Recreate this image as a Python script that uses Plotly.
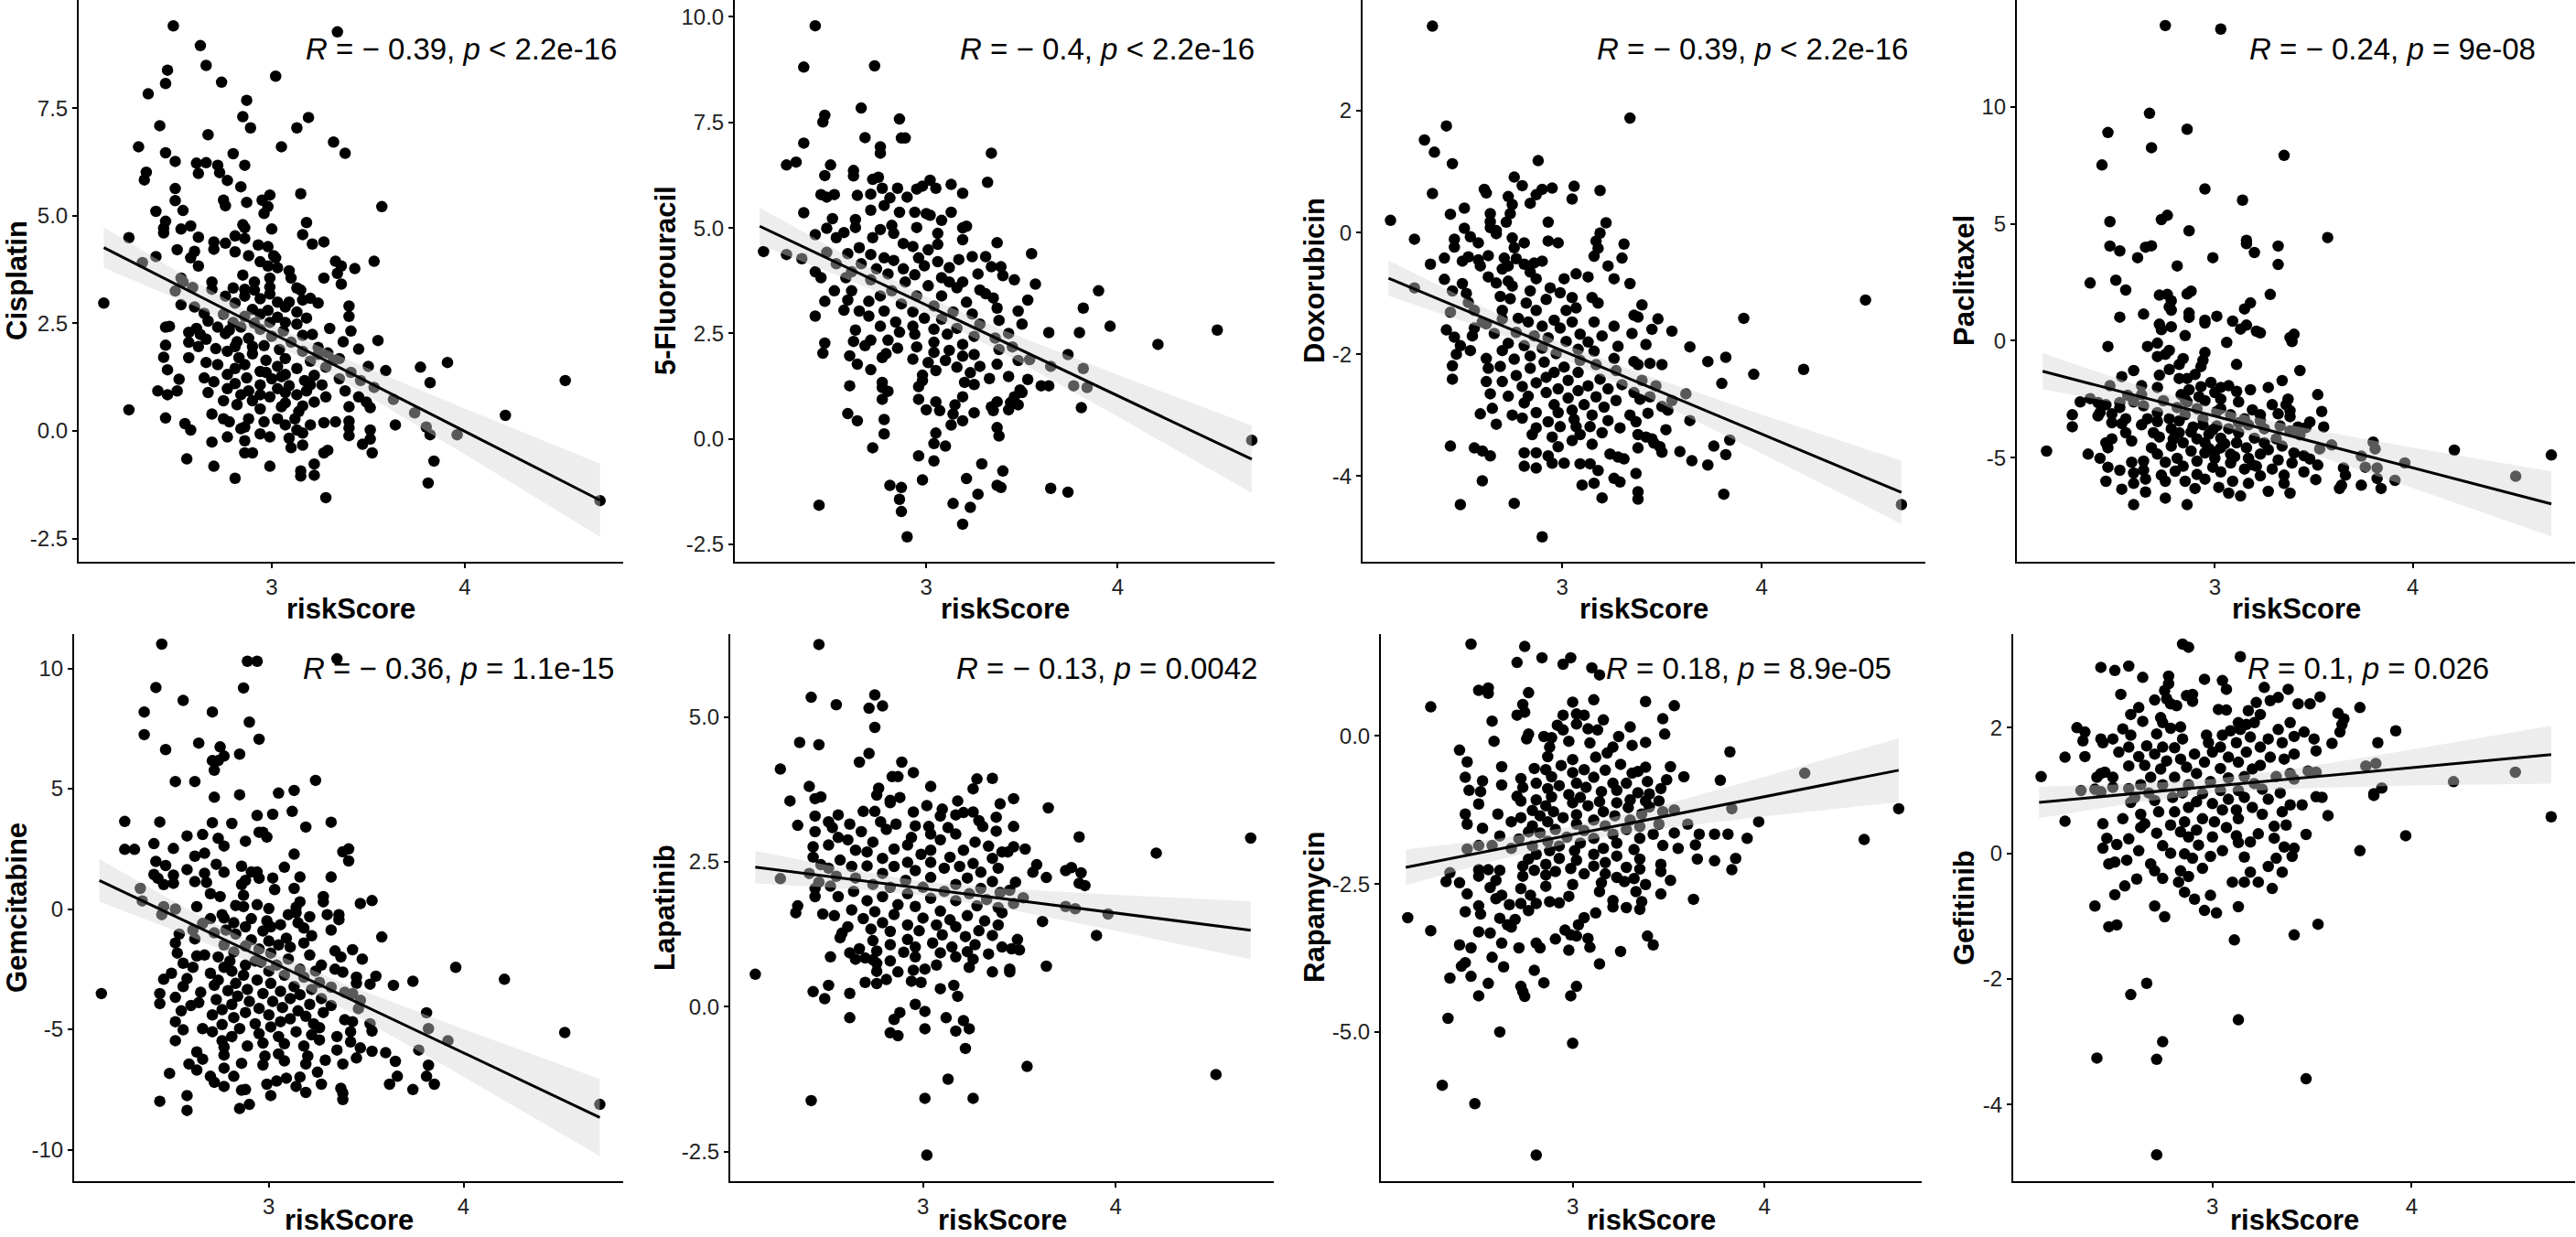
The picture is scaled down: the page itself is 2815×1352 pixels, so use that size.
import plotly.graph_objects as go

W, H = 2815, 1352
FONT = "Liberation Sans, Arial, sans-serif"

# ---- values ----
drugs = ["Cisplatin", "5-Fluorouracil", "Doxorubicin", "Paclitaxel",
         "Gemcitabine", "Lapatinib", "Rapamycin", "Gefitinib"]

stat_labels = [
    "<i>R</i> = \u2212 0.39, <i>p</i> &lt; 2.2e-16",
    "<i>R</i> = \u2212 0.4, <i>p</i> &lt; 2.2e-16",
    "<i>R</i> = \u2212 0.39, <i>p</i> &lt; 2.2e-16",
    "<i>R</i> = \u2212 0.24, <i>p</i> = 9e-08",
    "<i>R</i> = \u2212 0.36, <i>p</i> = 1.1e-15",
    "<i>R</i> = \u2212 0.13, <i>p</i> = 0.0042",
    "<i>R</i> = 0.18, <i>p</i> = 8.9e-05",
    "<i>R</i> = 0.1, <i>p</i> = 0.026",
]

x_range = [2.0, 4.82]
x_ticks = [3, 4]
x_ticktext = ["3", "4"]

y_ranges = [[-3.04, 10.01], [-2.91, 10.40], [-5.41, 3.82], [-9.44, 14.56],
            [-11.31, 11.43], [-3.01, 6.43], [-7.52, 1.72], [-5.22, 3.49]]
y_ticks = [[-2.5, 0, 2.5, 5, 7.5], [-2.5, 0, 2.5, 5, 7.5, 10], [-4, -2, 0, 2],
           [-5, 0, 5, 10], [-10, -5, 0, 5, 10], [-2.5, 0, 2.5, 5],
           [-5, -2.5, 0], [-4, -2, 0, 2]]
y_ticktext = [["-2.5", "0.0", "2.5", "5.0", "7.5"],
              ["-2.5", "0.0", "2.5", "5.0", "7.5", "10.0"],
              ["-4", "-2", "0", "2"],
              ["-5", "0", "5", "10"],
              ["-10", "-5", "0", "5", "10"],
              ["-2.5", "0.0", "2.5", "5.0"],
              ["-5.0", "-2.5", "0.0"],
              ["-4", "-2", "0", "2"]]

# regression lines (y at the smallest and largest riskScore)
fit_x = [2.13, 4.70]
fit_y = [[4.26, -1.61], [5.04, -0.48], [-0.75, -4.27], [-1.30, -6.97],
         [1.19, -8.66], [2.41, 1.32], [-2.22, -0.58], [0.81, 1.57]]

# confidence band edges
band_x = [2.13, 2.6, 3.0, 3.4, 4.0, 4.70]
band_upper = [[4.73, 3.47, 2.48, 1.64, 0.52, -0.76],
              [5.48, 4.30, 3.37, 2.58, 1.52, 0.32],
              [-0.46, -1.22, -1.82, -2.32, -2.99, -3.75],
              [-0.53, -1.87, -2.88, -3.64, -4.56, -5.58],
              [2.08, -0.08, -1.75, -3.14, -4.99, -7.06],
              [2.69, 2.38, 2.16, 2.04, 1.93, 1.82],
              [-1.92, -1.74, -1.53, -1.23, -0.69, -0.04],
              [1.06, 1.10, 1.18, 1.34, 1.65, 2.03]]
band_lower = [[3.79, 2.90, 2.07, 1.08, -0.54, -2.46],
              [4.60, 3.76, 2.98, 2.04, 0.53, -1.28],
              [-1.04, -1.57, -2.07, -2.66, -3.63, -4.79],
              [-2.07, -2.80, -3.56, -4.57, -6.29, -8.36],
              [0.31, -1.15, -2.53, -4.21, -6.97, -10.26],
              [2.13, 2.04, 1.92, 1.71, 1.31, 0.82],
              [-2.52, -2.10, -1.80, -1.59, -1.36, -1.12],
              [0.56, 0.80, 0.96, 1.03, 1.08, 1.11]]

# (riskScore, drug sensitivity) pairs
cisplatin = [
    (2.13,2.97),(2.49,9.41),(3.34,9.27),(2.63,8.95),(2.66,8.49),(2.46,8.38),(2.45,8.07),(3.02,8.24),(2.74,8.10),(2.36,7.83),
    (2.87,7.68),(3.19,7.28),(2.85,7.30),(2.42,7.09),(3.13,7.04),(2.89,7.04),(2.67,6.88),(2.31,6.60),(3.32,6.71),(3.05,6.60),
    (2.45,6.46),(3.38,6.45),(2.80,6.44),(2.50,6.26),(2.61,6.22),(2.66,6.23),(2.86,6.17),(2.72,6.17),(2.62,5.98),(2.73,6.00),
    (2.35,6.01),(2.34,5.83),(2.77,5.82),(2.50,5.63),(2.84,5.67),(3.15,5.51),(2.50,5.35),(2.75,5.36),(2.95,5.36),(2.99,5.48),
    (2.87,5.31),(2.76,5.23),(3.57,5.21),(2.40,5.10),(2.54,5.12),(2.96,5.05),(2.98,5.21),(2.45,4.87),(3.18,4.84),(2.53,4.69),
    (2.44,4.71),(2.85,4.79),(2.86,4.72),(3.00,4.69),(2.58,4.76),(2.26,4.49),(2.44,4.60),(3.16,4.56),(2.62,4.50),(2.81,4.53),
    (2.86,4.47),(3.21,4.34),(3.27,4.39),(2.70,4.39),(2.76,4.36),(2.93,4.32),(2.98,4.28),(2.51,4.21),(2.60,4.17),(2.81,4.16),
    (2.70,4.22),(2.88,4.07),(3.01,4.07),(2.40,4.05),(2.58,4.02),(3.02,4.02),(3.33,3.94),(3.53,3.94),(2.33,3.91),(2.62,3.83),
    (3.36,3.83),(3.03,3.79),(3.43,3.77),(3.09,3.72),(3.34,3.66),(2.99,3.55),(2.85,3.62),(3.27,3.55),(3.10,3.55),(2.53,3.55),
    (2.54,3.46),(2.69,3.46),(2.91,3.46),(3.36,3.41),(2.99,3.34),(3.13,3.32),(2.59,3.33),(2.50,3.25),(2.80,3.32),(3.15,3.27),
    (2.86,3.29),(2.69,3.29),(2.99,3.18),(2.76,3.13),(2.86,3.13),(2.94,3.07),(3.20,3.08),(3.16,3.04),(3.09,2.99),(2.81,2.97),
    (2.53,2.93),(2.60,2.88),(3.24,2.97),(3.40,2.90),(3.07,2.88),(2.90,2.82),(2.98,2.80),(3.13,2.76),(2.65,2.73),(3.40,2.66),
    (2.75,2.71),(2.86,2.66),(3.18,2.62),(3.03,2.64),(2.67,2.55),(2.91,2.50),(2.80,2.52),(3.13,2.48),(2.45,2.41),(2.47,2.43),
    (2.72,2.41),(2.61,2.38),(2.84,2.41),(2.94,2.36),(3.30,2.38),(3.06,2.32),(3.41,2.32),(2.57,2.29),(2.76,2.26),(3.21,2.24),
    (2.63,2.24),(3.00,2.20),(3.16,2.22),(2.88,2.15),(3.37,2.07),(3.55,2.10),(2.66,2.13),(2.82,2.07),(2.57,2.06),(3.10,2.06),
    (2.45,1.99),(2.62,1.96),(2.96,1.98),(3.24,1.94),(3.04,1.89),(3.45,1.90),(2.71,1.91),(2.77,1.85),(3.16,1.85),(2.90,1.79),
    (3.29,1.81),(2.44,1.71),(2.57,1.70),(2.83,1.70),(3.07,1.68),(3.35,1.68),(2.97,1.64),(3.20,1.62),(2.66,1.59),(2.72,1.54),
    (2.86,1.54),(3.91,1.59),(3.03,1.50),(3.50,1.50),(3.77,1.48),(2.81,1.45),(3.13,1.45),(3.28,1.48),(2.46,1.42),(2.94,1.38),
    (3.59,1.40),(3.41,1.36),(2.77,1.31),(3.07,1.31),(3.22,1.29),(2.65,1.23),(2.87,1.23),(3.00,1.21),(3.17,1.17),(3.35,1.21),
    (2.52,1.20),(3.46,1.17),(2.70,1.14),(3.82,1.12),(2.81,1.10),(2.94,1.07),(3.09,1.05),(3.26,1.07),(3.53,1.01),(2.77,0.98),
    (3.03,0.98),(2.41,0.93),(2.51,0.93),(2.88,0.93),(3.18,0.93),(3.38,0.93),(2.46,0.84),(2.67,0.89),(2.84,0.84),(2.99,0.79),
    (3.13,0.84),(3.28,0.79),(3.45,0.79),(3.63,0.73),(2.75,0.70),(2.90,0.70),(3.07,0.65),(3.22,0.67),(3.49,0.67),(3.74,0.42),
    (2.82,0.61),(3.16,0.58),(3.40,0.56),(3.51,0.54),(2.26,0.49),(2.94,0.51),(3.05,0.56),(3.14,0.45),(2.69,0.39),(4.21,0.36),
    (2.45,0.30),(2.75,0.28),(2.88,0.28),(3.33,0.21),(3.40,0.23),(2.55,0.17),(2.78,0.21),(2.96,0.21),(3.27,0.19),(3.64,0.14),
    (3.07,0.14),(3.80,0.09),(3.20,0.14),(2.58,0.02),(2.84,0.05),(3.40,0.07),(3.51,0.02),(3.13,0.02),(2.94,-0.07),(3.16,-0.05),
    (3.82,-0.09),(3.96,-0.09),(2.77,-0.14),(2.99,-0.14),(3.40,-0.11),(3.51,-0.19),(2.86,-0.23),(3.09,-0.17),(2.69,-0.26),(3.47,-0.31),
    (3.16,-0.33),(3.10,-0.39),(3.52,-0.51),(2.86,-0.51),(2.90,-0.51),(3.27,-0.51),(3.29,-0.45),(2.56,-0.65),(3.84,-0.70),(3.22,-0.77),
    (2.70,-0.82),(2.99,-0.82),(3.15,-0.93),(3.22,-1.03),(3.15,-1.05),(2.81,-1.10),(3.81,-1.21),(3.28,-1.55),(4.52,1.17),(4.70,-1.62),
    (3.24,1.78),(3.32,1.64),(3.05,1.26),(2.97,1.36),(3.20,1.07),(3.07,0.89),(2.94,0.84),(3.12,0.28),(3.03,0.28),(2.86,0.09),
    (2.81,1.96),(2.90,1.96),(2.78,2.34),(3.07,2.52),(2.99,2.52),(2.94,2.71),(3.03,2.99),(2.91,3.27),(2.98,3.83),(2.94,3.93),
]

fluorouracil = [
    (2.15,4.44),(2.27,4.37),(2.35,4.27),(2.42,9.79),(2.36,8.81),(2.73,8.84),(2.47,7.67),(2.46,7.51),(2.86,7.58),(2.66,7.84),
    (2.36,7.01),(2.68,7.14),(2.87,7.13),(2.89,7.13),(2.76,6.92),(2.76,6.77),(3.34,6.77),(2.27,6.49),(2.32,6.56),(2.50,6.49),
    (2.47,6.24),(2.62,6.36),(2.62,6.23),(2.75,6.20),(2.72,6.15),(3.32,6.08),(3.02,6.13),(2.85,5.94),(2.95,5.92),(2.98,5.99),
    (3.05,5.94),(3.13,6.03),(2.77,5.94),(3.19,5.82),(2.45,5.79),(2.48,5.73),(2.52,5.79),(2.64,5.77),(2.71,5.80),(2.90,5.73),
    (2.81,5.71),(2.36,5.36),(2.51,5.22),(2.63,5.20),(2.71,5.42),(2.78,5.53),(2.86,5.37),(2.94,5.37),(3.00,5.34),(3.13,5.37),
    (3.08,5.18),(3.02,5.30),(2.82,5.06),(2.76,4.96),(2.48,4.99),(2.42,4.84),(2.57,4.89),(2.63,5.01),(3.19,5.00),(3.21,5.04),
    (2.95,5.01),(2.83,4.87),(3.06,4.87),(2.53,4.77),(2.72,4.77),(3.19,4.72),(3.37,4.65),(2.88,4.63),(2.65,4.53),(3.06,4.61),
    (2.93,4.56),(3.01,4.48),(2.48,4.42),(2.59,4.39),(2.71,4.37),(3.55,4.39),(2.78,4.29),(2.96,4.29),(3.24,4.32),(3.31,4.32),
    (2.83,4.23),(3.06,4.20),(3.17,4.25),(2.53,4.15),(2.66,4.15),(2.99,4.10),(3.34,4.08),(3.39,4.08),(2.74,4.03),(2.88,4.03),
    (3.12,4.06),(2.42,3.96),(2.61,3.96),(2.80,3.91),(2.94,3.89),(3.27,3.91),(3.40,3.87),(2.45,3.82),(2.58,3.82),(3.08,3.82),
    (2.71,3.77),(2.89,3.72),(3.46,3.77),(3.12,3.72),(3.19,3.72),(3.57,3.67),(3.01,3.63),(3.90,3.51),(2.52,3.51),(2.61,3.51),
    (3.16,3.58),(2.82,3.51),(3.28,3.53),(3.31,3.44),(2.76,3.39),(2.95,3.39),(3.08,3.39),(3.35,3.34),(2.59,3.29),(3.53,3.29),
    (2.47,3.26),(2.70,3.26),(3.21,3.24),(2.87,3.20),(3.04,3.15),(3.37,3.10),(3.82,3.10),(3.48,3.03),(2.57,3.05),(2.65,3.03),
    (2.78,3.03),(2.93,3.01),(3.14,3.01),(3.24,2.96),(2.42,2.91),(2.70,2.91),(2.99,2.86),(3.38,2.81),(3.08,2.84),(2.84,2.77),
    (2.76,2.67),(2.93,2.67),(3.96,2.67),(3.50,2.72),(3.28,2.72),(3.16,2.62),(3.04,2.60),(4.52,2.58),(3.64,2.52),(3.80,2.52),
    (2.63,2.58),(3.43,2.50),(2.86,2.53),(2.94,2.48),(3.11,2.48),(3.25,2.43),(3.36,2.39),(2.71,2.34),(2.62,2.31),(2.80,2.34),
    (2.47,2.27),(3.04,2.29),(4.21,2.24),(3.19,2.24),(2.68,2.21),(2.95,2.18),(3.45,2.18),(2.85,2.15),(3.12,2.10),(3.38,2.12),
    (2.46,2.03),(2.79,2.02),(3.04,2.05),(3.25,2.00),(3.74,2.00),(2.60,1.97),(3.19,1.96),(3.54,1.88),(2.77,1.93),(2.93,1.89),
    (3.10,1.86),(3.48,1.86),(3.37,1.77),(3.01,1.81),(3.65,1.72),(2.64,1.77),(3.82,1.67),(3.28,1.72),(3.16,1.70),(2.71,1.64),
    (3.05,1.62),(3.23,1.57),(2.98,1.51),(3.43,1.48),(3.33,1.43),(3.53,1.41),(2.98,1.38),(3.20,1.34),(2.77,1.34),(3.60,1.26),
    (3.64,1.26),(3.77,1.26),(2.60,1.26),(2.77,1.22),(2.96,1.24),(3.84,1.22),(3.25,1.29),(3.49,1.16),(3.50,1.10),(3.46,1.00),
    (3.19,1.00),(2.80,1.13),(2.77,0.94),(2.96,0.94),(3.05,0.88),(3.44,0.86),(3.37,0.88),(3.15,0.81),(3.48,0.81),(3.34,0.76),
    (3.81,0.74),(3.00,0.69),(3.07,0.67),(3.43,0.69),(3.35,0.67),(3.25,0.62),(2.59,0.60),(3.14,0.59),(2.64,0.43),(2.78,0.46),
    (3.19,0.43),(3.13,0.33),(3.37,0.27),(2.78,0.12),(3.05,0.14),(3.38,0.07),(4.70,-0.03),(3.04,-0.11),(3.10,-0.17),(2.72,-0.21),
    (2.96,-0.40),(3.04,-0.52),(3.29,-0.59),(3.40,-0.76),(2.98,-0.97),(3.21,-0.94),(3.37,-1.10),(3.39,-1.15),(2.81,-1.10),(2.87,-1.15),
    (3.65,-1.17),(3.74,-1.26),(3.27,-1.31),(2.86,-1.43),(3.14,-1.53),(2.44,-1.57),(3.23,-1.62),(2.87,-1.72),(3.19,-2.02),(2.90,-2.32),
]

doxorubicin = [
    (2.14,0.20),(2.35,3.39),(2.42,1.75),(2.31,1.52),(2.36,1.32),(2.45,1.13),(3.34,1.88),(2.88,1.18),(2.35,0.64),(2.76,0.91),
    (2.80,0.77),(2.61,0.71),(2.62,0.65),(2.87,0.62),(2.90,0.71),(2.95,0.73),(3.06,0.76),(3.05,0.55),(3.19,0.69),(2.73,0.59),
    (2.75,0.46),(2.84,0.48),(2.51,0.40),(2.44,0.30),(2.64,0.31),(2.74,0.31),(2.64,0.18),(2.72,0.17),(2.93,0.17),(3.22,0.16),
    (2.64,0.08),(2.67,0.03),(2.51,0.07),(3.19,-0.01),(2.67,-0.02),(2.54,-0.07),(2.46,-0.11),(2.75,-0.09),(2.26,-0.11),(2.93,-0.14),
    (2.98,-0.17),(3.17,-0.14),(2.81,-0.17),(2.58,-0.17),(3.31,-0.19),(2.46,-0.24),(2.76,-0.25),(3.18,-0.26),(3.16,-0.39),(2.63,-0.38),
    (2.53,-0.40),(2.41,-0.42),(2.71,-0.42),(2.58,-0.45),(3.30,-0.42),(2.77,-0.43),(2.90,-0.47),(2.50,-0.47),(2.86,-0.50),(2.34,-0.52),
    (2.59,-0.55),(2.73,-0.55),(3.23,-0.55),(2.81,-0.52),(2.70,-0.60),(2.84,-0.65),(3.07,-0.68),(3.13,-0.73),(3.01,-0.76),(3.26,-0.76),
    (2.63,-0.73),(2.41,-0.77),(2.87,-0.76),(2.67,-0.83),(2.73,-0.80),(3.34,-0.84),(2.50,-0.84),(2.75,-0.88),(2.94,-0.91),(2.26,-0.91),
    (2.45,-0.96),(2.84,-0.96),(2.99,-0.99),(2.52,-1.00),(2.69,-1.05),(3.15,-1.07),(3.05,-1.07),(2.92,-1.10),(2.74,-1.09),(2.82,-1.16),
    (3.18,-1.16),(2.53,-1.15),(3.40,-1.19),(3.07,-1.24),(3.02,-1.28),(2.70,-1.28),(2.56,-1.28),(2.87,-1.28),(2.44,-1.31),(4.52,-1.11),
    (3.91,-1.41),(3.36,-1.36),(3.38,-1.39),(3.48,-1.42),(2.78,-1.41),(2.96,-1.44),(3.16,-1.47),(2.70,-1.42),(2.60,-1.47),(2.83,-1.47),
    (2.62,-1.50),(2.90,-1.54),(2.99,-1.57),(3.05,-1.47),(3.26,-1.54),(2.56,-1.57),(2.42,-1.60),(3.55,-1.62),(3.45,-1.59),(3.35,-1.66),
    (3.09,-1.67),(2.77,-1.64),(2.66,-1.66),(3.20,-1.70),(2.86,-1.70),(2.93,-1.73),(2.46,-1.72),(2.55,-1.70),(3.02,-1.79),(3.13,-1.80),
    (2.73,-1.82),(3.42,-1.84),(2.81,-1.86),(2.49,-1.86),(3.28,-1.87),(3.64,-1.88),(2.90,-1.90),(3.08,-1.92),(2.70,-1.94),(2.54,-1.94),
    (3.16,-1.95),(2.97,-1.99),(2.47,-2.00),(2.84,-2.03),(3.82,-2.05),(2.62,-2.07),(3.26,-2.07),(2.76,-2.08),(3.09,-2.10),(3.73,-2.12),
    (3.36,-2.12),(2.91,-2.13),(3.44,-2.15),(3.50,-2.17),(3.17,-2.17),(2.45,-2.19),(2.69,-2.20),(3.01,-2.21),(2.84,-2.23),(3.38,-2.17),
    (4.21,-2.25),(2.63,-2.23),(3.27,-2.27),(3.08,-2.30),(2.96,-2.30),(3.96,-2.33),(2.77,-2.35),(2.92,-2.38),(3.19,-2.41),(2.45,-2.41),
    (3.03,-2.43),(3.40,-2.43),(2.70,-2.45),(2.87,-2.47),(3.80,-2.48),(3.30,-2.50),(2.62,-2.45),(3.13,-2.52),(3.47,-2.52),(2.80,-2.53),
    (2.98,-2.57),(3.23,-2.57),(3.08,-2.60),(3.36,-2.63),(2.92,-2.63),(2.64,-2.65),(2.73,-2.69),(2.83,-2.69),(3.62,-2.65),(3.17,-2.70),
    (3.44,-2.70),(3.03,-2.72),(3.39,-2.74),(3.55,-2.76),(3.27,-2.76),(2.81,-2.80),(2.96,-2.83),(3.11,-2.83),(3.50,-2.86),(3.21,-2.87),
    (3.05,-2.92),(3.53,-2.92),(2.65,-2.89),(2.87,-2.96),(2.98,-2.96),(3.34,-3.00),(2.59,-2.98),(2.75,-3.00),(3.15,-3.00),(3.43,-2.97),
    (2.80,-3.05),(3.06,-3.07),(3.64,-3.09),(2.93,-3.11),(3.23,-3.09),(3.37,-3.11),(2.67,-3.15),(3.14,-3.19),(2.99,-3.19),(3.07,-3.19),
    (2.87,-3.21),(3.29,-3.21),(3.52,-3.24),(3.20,-3.29),(3.09,-3.32),(3.38,-3.32),(2.95,-3.36),(2.85,-3.32),(3.42,-3.36),(3.45,-3.39),
    (3.84,-3.41),(3.05,-3.42),(3.46,-3.46),(3.15,-3.48),(3.76,-3.51),(2.44,-3.51),(2.98,-3.52),(2.56,-3.54),(3.38,-3.54),(3.49,-3.52),
    (2.60,-3.59),(2.81,-3.62),(2.87,-3.62),(3.24,-3.64),(3.50,-3.61),(3.59,-3.60),(3.82,-3.65),(2.64,-3.67),(2.93,-3.67),(3.28,-3.69),
    (3.31,-3.72),(2.95,-3.79),(3.01,-3.79),(3.65,-3.75),(3.09,-3.80),(3.14,-3.80),(2.81,-3.84),(2.87,-3.87),(3.73,-3.82),(3.18,-3.91),
    (3.37,-3.96),(3.26,-4.04),(3.29,-4.10),(3.16,-4.12),(3.10,-4.15),(2.60,-4.08),(3.38,-4.26),(3.81,-4.30),(3.20,-4.36),(3.38,-4.38),
    (2.76,-4.45),(2.49,-4.47),(4.70,-4.47),(2.90,-5.00),
]

paclitaxel = [
    (2.15,-4.71),(2.75,13.47),(3.03,13.32),(2.67,9.72),(2.86,9.04),(2.46,8.90),(2.68,8.25),(3.35,7.92),(2.43,7.51),(2.95,6.49),
    (3.14,6.01),(2.76,5.36),(2.73,5.18),(2.47,5.09),(2.87,4.70),(3.57,4.41),(3.16,4.29),(3.16,4.15),(2.47,4.05),(2.68,4.06),
    (2.65,4.00),(3.32,4.05),(2.52,3.84),(3.20,3.77),(2.61,3.55),(2.99,3.55),(3.32,3.26),(2.81,3.20),(2.37,2.47),(2.50,2.59),
    (2.55,2.17),(2.88,2.12),(2.86,2.00),(3.28,1.98),(2.72,1.95),(2.76,1.98),(2.78,1.71),(3.18,1.62),(2.77,1.45),(2.78,1.31),
    (3.15,1.36),(2.87,1.19),(2.64,1.14),(3.01,1.05),(2.52,1.01),(2.87,1.00),(2.95,0.88),(2.95,0.76),(3.09,0.84),(2.72,0.71),
    (3.16,0.67),(2.78,0.60),(2.73,0.48),(3.13,0.50),(3.21,0.41),(3.23,0.34),(2.85,0.22),(3.40,0.28),(3.38,0.14),(3.39,-0.03),
    (3.06,-0.07),(2.71,-0.10),(2.46,-0.24),(2.66,-0.24),(2.77,-0.41),(2.95,-0.50),(2.71,-0.67),(2.75,-0.58),(2.84,-0.76),(2.94,-0.84),
    (3.11,-1.01),(2.82,-1.01),(2.93,-1.10),(3.43,-1.27),(2.77,-1.22),(2.59,-1.27),(2.90,-1.44),(2.72,-1.47),(3.34,-1.70),(2.53,-1.53),
    (2.86,-1.61),(2.82,-1.61),(2.98,-1.78),(2.93,-1.96),(2.47,-1.92),(2.71,-1.99),(3.03,-1.99),(3.07,-1.92),(3.27,-1.99),(2.63,-1.92),
    (3.18,-2.09),(2.87,-2.09),(3.11,-2.16),(3.00,-2.21),(3.52,-2.30),(2.83,-2.30),(2.63,-2.30),(2.56,-2.33),(2.92,-2.39),(2.32,-2.61),
    (2.37,-2.47),(2.41,-2.64),(2.45,-2.73),(2.52,-2.64),(2.59,-2.61),(2.74,-2.56),(2.85,-2.49),(2.86,-2.61),(2.95,-2.56),(3.03,-2.49),
    (3.12,-2.61),(3.37,-2.49),(3.29,-2.73),(3.36,-2.73),(2.64,-2.78),(2.52,-2.85),(2.81,-2.85),(2.91,-2.90),(3.03,-2.90),(3.19,-2.95),
    (3.38,-2.99),(3.54,-3.02),(2.42,-3.07),(2.28,-3.16),(2.48,-3.12),(2.71,-3.07),(2.85,-3.16),(3.01,-3.02),(3.08,-3.16),(3.23,-3.16),
    (3.32,-3.12),(3.38,-3.24),(2.41,-3.21),(2.55,-3.33),(2.66,-3.33),(2.77,-3.33),(2.94,-3.33),(3.15,-3.33),(3.23,-3.42),(2.71,-3.45),
    (2.82,-3.42),(2.48,-3.50),(3.48,-3.47),(2.53,-3.54),(2.63,-3.59),(2.28,-3.67),(3.01,-3.64),(2.89,-3.68),(2.94,-3.59),(3.17,-3.59),
    (3.33,-3.64),(3.42,-3.68),(3.46,-3.71),(3.55,-3.68),(2.78,-3.76),(3.07,-3.76),(3.25,-3.76),(2.69,-3.93),(2.55,-3.93),(2.82,-3.93),
    (2.97,-3.99),(3.12,-3.93),(3.38,-3.85),(3.43,-4.02),(2.48,-4.19),(2.72,-4.11),(2.91,-4.19),(3.03,-4.16),(3.20,-4.16),(3.31,-4.19),
    (2.45,-4.36),(2.58,-4.28),(2.84,-4.36),(2.95,-4.36),(3.11,-4.36),(3.25,-4.36),(3.80,-4.33),(3.59,-4.45),(2.78,-4.50),(3.34,-4.50),
    (2.46,-4.57),(2.68,-4.57),(3.03,-4.57),(3.16,-4.57),(3.81,-4.62),(3.53,-4.62),(4.21,-4.67),(2.88,-4.71),(2.95,-4.79),(3.40,-4.79),
    (2.71,-4.84),(2.36,-4.84),(3.08,-4.84),(3.23,-4.84),(3.45,-4.91),(4.70,-4.88),(3.74,-4.93),(2.42,-5.02),(2.81,-5.02),(3.00,-5.02),
    (3.17,-5.02),(3.32,-5.09),(3.48,-5.05),(2.64,-5.14),(2.91,-5.14),(2.75,-5.19),(2.58,-5.19),(3.08,-5.22),(3.96,-5.22),(3.39,-5.22),
    (3.52,-5.31),(2.84,-5.36),(3.21,-5.36),(2.46,-5.40),(2.99,-5.40),(3.76,-5.40),(3.82,-5.43),(3.65,-5.43),(3.15,-5.48),(3.29,-5.48),
    (2.64,-5.53),(2.52,-5.53),(2.80,-5.57),(3.03,-5.60),(3.45,-5.60),(3.66,-5.74),(2.91,-5.71),(2.73,-5.74),(2.59,-5.65),(3.35,-5.74),
    (3.23,-5.77),(3.82,-5.88),(2.95,-5.91),(4.52,-5.79),(3.51,-5.93),(2.45,-6.00),(2.75,-6.00),(2.85,-6.00),(3.09,-6.00),(3.17,-6.09),
    (2.59,-6.09),(3.91,-5.96),(3.35,-6.09),(3.64,-6.17),(3.74,-6.17),(2.65,-5.91),(3.02,-6.26),(2.90,-6.31),(3.63,-6.31),(3.84,-6.31),
    (2.53,-6.34),(3.27,-6.43),(2.65,-6.46),(3.07,-6.51),(3.38,-6.51),(3.13,-6.63),(2.75,-6.72),(2.86,-7.00),(2.59,-7.00),
    (2.97,-4.60),(3.05,-4.40),(2.88,-3.90),(3.10,-4.95),(3.27,-4.65),(2.99,-3.80),(3.12,-3.50),(2.79,-4.20),(3.00,-4.75),(3.19,-5.30),
]

gemcitabine = [
    (2.14,-3.51),(2.45,11.01),(2.89,10.30),(2.94,10.30),(3.35,10.40),(2.42,9.21),(2.87,9.19),(2.56,8.67),(2.36,8.19),(2.71,8.19),
    (2.90,7.77),(2.36,7.25),(2.95,7.06),(2.64,6.90),(2.75,6.74),(2.47,6.63),(2.85,6.44),(2.77,6.36),(2.71,6.17),(2.74,6.17),
    (2.72,5.77),(2.52,5.30),(2.62,5.30),(3.24,5.35),(3.13,4.93),(3.05,4.82),(2.85,4.75),(2.72,4.65),(3.12,4.06),(3.02,3.94),
    (2.94,3.89),(2.26,3.64),(2.44,3.62),(2.71,3.59),(2.81,3.56),(3.32,3.61),(3.19,3.41),(2.95,3.19),(2.97,3.19),(2.99,2.99),
    (2.58,3.04),(2.66,3.10),(2.74,2.94),(2.88,2.82),(2.41,2.72),(2.77,2.62),(2.26,2.48),(2.31,2.48),(2.51,2.52),(3.41,2.50),
    (3.38,2.38),(2.67,2.32),(2.62,2.20),(3.13,2.28),(2.42,1.98),(3.41,2.00),(2.47,1.81),(2.73,1.86),(3.08,1.74),(2.86,1.78),
    (2.58,1.64),(2.91,1.54),(2.94,1.54),(2.67,1.49),(2.77,1.53),(2.41,1.44),(2.43,1.28),(2.51,1.41),(2.95,1.28),(3.02,1.29),
    (3.16,1.33),(3.32,1.33),(2.62,1.14),(2.68,1.11),(2.46,1.02),(2.51,1.07),(2.86,1.02),(2.88,1.19),(3.03,0.81),(3.13,0.86),
    (2.70,0.64),(2.87,0.57),(2.75,0.52),(3.28,0.52),(2.34,0.86),(2.35,0.34),(3.16,0.30),(3.28,0.30),(3.47,0.23),(3.53,0.35),
    (2.94,0.18),(2.83,0.15),(2.87,0.10),(2.46,0.10),(2.63,0.10),(3.14,0.07),(2.52,0.00),(3.00,0.02),(2.45,-0.23),(3.21,-0.32),
    (3.30,-0.23),(3.36,-0.23),(3.14,-0.15),(3.10,-0.23),(2.76,-0.23),(2.77,-0.37),(2.70,-0.40),(3.36,-0.44),(2.91,-0.40),(2.99,-0.49),
    (3.15,-0.57),(2.82,-0.57),(2.66,-0.60),(3.06,-0.65),(3.01,-0.74),(2.88,-0.74),(3.18,-0.79),(3.32,-0.87),(2.61,-0.87),(2.78,-0.87),
    (2.97,-0.91),(2.72,-0.99),(2.83,-1.04),(2.54,-1.04),(3.22,-1.11),(3.58,-1.16),(3.09,-1.21),(2.62,-1.24),(2.91,-1.28),(3.00,-1.33),
    (2.52,-1.41),(3.18,-1.41),(2.77,-1.49),(3.05,-1.49),(2.88,-1.54),(3.11,-1.58),(2.95,-1.66),(3.43,-1.69),(3.34,-1.74),(2.53,-1.83),
    (2.82,-1.78),(3.01,-1.83),(3.21,-1.91),(2.67,-1.91),(2.63,-1.95),(2.74,-1.99),(3.37,-1.99),(3.48,-2.08),(3.10,-2.08),(2.93,-2.16),
    (2.80,-2.16),(2.96,-2.21),(2.56,-2.25),(3.04,-2.33),(3.27,-2.33),(2.88,-2.33),(3.96,-2.42),(2.77,-2.42),(2.61,-2.42),(3.16,-2.50),
    (3.34,-2.50),(2.81,-2.58),(3.00,-2.58),(3.38,-2.62),(3.24,-2.58),(2.70,-2.67),(2.50,-2.67),(2.87,-2.75),(3.08,-2.75),(3.18,-2.83),
    (3.45,-2.83),(3.55,-2.79),(4.21,-2.92),(2.46,-2.92),(2.58,-2.89),(2.74,-2.95),(2.94,-2.95),(3.74,-3.00),(3.26,-3.05),(2.83,-3.09),
    (3.01,-3.09),(3.52,-3.12),(3.45,-3.09),(2.72,-3.17),(2.56,-3.22),(3.13,-3.22),(3.32,-3.25),(3.64,-3.17),(2.89,-3.34),(3.22,-3.34),
    (2.79,-3.39),(3.06,-3.42),(2.65,-3.46),(3.39,-3.46),(2.44,-3.51),(2.97,-3.51),(3.16,-3.56),(3.43,-3.51),(2.84,-3.62),(2.52,-3.67),
    (3.11,-3.72),(3.27,-3.72),(2.73,-3.76),(3.02,-3.84),(2.90,-3.84),(3.47,-3.79),(2.64,-3.89),(3.21,-3.96),(2.81,-3.96),(2.44,-3.93),
    (3.32,-4.01),(2.60,-4.01),(3.07,-4.09),(2.95,-4.13),(2.76,-4.18),(3.46,-4.14),(3.15,-4.23),(2.88,-4.30),(3.28,-4.30),(3.81,-4.31),
    (2.55,-4.23),(3.00,-4.40),(2.71,-4.40),(3.19,-4.46),(2.82,-4.51),(3.11,-4.56),(3.39,-4.60),(3.43,-4.68),(3.06,-4.68),(2.93,-4.77),
    (3.23,-4.77),(2.52,-4.68),(3.52,-4.77),(2.76,-4.80),(3.01,-4.90),(3.26,-4.93),(2.66,-4.97),(2.85,-4.97),(3.82,-4.97),(2.56,-5.02),
    (2.71,-5.10),(3.53,-5.07),(4.52,-5.13),(3.14,-5.10),(2.95,-5.18),(3.42,-5.10),(3.22,-5.23),(3.35,-5.30),(3.05,-5.30),(2.81,-5.30),
    (3.92,-5.47),(2.52,-5.47),(2.76,-5.47),(3.26,-5.44),(2.97,-5.57),(3.42,-5.52),(3.08,-5.60),(2.89,-5.69),(3.18,-5.69),(2.77,-5.74),
    (3.77,-5.86),(3.47,-5.77),(3.35,-5.86),(3.53,-5.91),(3.60,-5.97),(2.63,-5.94),(3.05,-6.02),(2.98,-6.11),(3.20,-6.11),(2.77,-6.07),
    (3.45,-6.19),(2.66,-6.24),(3.29,-6.28),(3.08,-6.31),(3.65,-6.33),(3.82,-6.49),(3.19,-6.44),(2.97,-6.48),(2.59,-6.44),(3.38,-6.44),
    (2.86,-6.41),(2.77,-6.61),(2.63,-6.69),(3.25,-6.78),(2.49,-6.83),(3.66,-6.95),(2.70,-6.95),(3.16,-6.98),(3.09,-7.03),(3.81,-6.95),
    (2.82,-6.95),(3.04,-7.15),(3.27,-7.28),(2.72,-7.20),(3.62,-7.28),(3.85,-7.28),(2.99,-7.28),(3.14,-7.37),(2.77,-7.37),(3.37,-7.45),
    (2.88,-7.50),(3.74,-7.50),(3.19,-7.62),(2.86,-7.53),(3.38,-7.65),(3.01,-7.75),(2.58,-7.75),(3.38,-7.92),(2.44,-7.99),(2.90,-8.12),
    (2.85,-8.29),(2.58,-8.37),(4.70,-8.12),
]

lapatinib = [
    (2.13,0.56),(2.46,6.25),(2.42,5.34),(2.55,5.21),(2.75,5.38),(2.72,5.15),(2.79,5.19),(2.75,4.82),(2.36,4.56),(2.46,4.52),
    (2.72,4.37),(2.67,4.22),(2.89,4.22),(2.26,4.10),(2.95,4.04),(2.84,3.97),(2.87,3.97),(3.28,3.93),(3.36,3.94),(2.41,3.80),
    (3.04,3.80),(3.26,3.76),(2.77,3.77),(2.76,3.65),(2.47,3.62),(2.44,3.59),(2.88,3.61),(2.83,3.56),(2.31,3.55),(3.18,3.55),
    (3.47,3.59),(3.40,3.50),(2.83,3.52),(3.02,3.47),(3.65,3.43),(3.10,3.41),(3.26,3.36),(3.21,3.35),(2.95,3.36),(2.69,3.37),
    (2.75,3.37),(3.17,3.31),(2.56,3.31),(2.44,3.29),(3.38,3.27),(3.09,3.29),(3.29,3.21),(2.51,3.19),(2.78,3.19),(2.86,3.15),
    (2.35,3.13),(2.62,3.15),(2.96,3.12),(3.03,3.11),(3.47,3.11),(2.53,3.09),(3.13,3.09),(3.31,3.11),(2.81,3.06),(2.44,3.02),
    (2.68,3.02),(3.38,3.03),(3.04,2.98),(3.17,2.98),(3.81,2.93),(2.56,2.92),(2.94,2.92),(4.70,2.91),(2.61,2.88),(3.09,2.88),
    (2.74,2.84),(3.27,2.84),(2.51,2.79),(2.92,2.79),(3.34,2.77),(2.43,2.76),(2.65,2.70),(3.47,2.76),(3.53,2.72),(3.21,2.70),
    (2.85,2.72),(3.04,2.70),(3.41,2.67),(2.71,2.67),(3.44,2.67),(2.99,2.63),(4.21,2.65),(2.43,2.58),(3.14,2.58),(2.79,2.56),
    (3.36,2.56),(2.57,2.53),(2.92,2.49),(3.04,2.49),(3.26,2.47),(2.47,2.45),(3.59,2.45),(2.71,2.43),(2.63,2.42),(2.85,2.42),
    (3.19,2.42),(3.77,2.40),(2.51,2.39),(3.11,2.39),(3.39,2.39),(3.74,2.35),(2.96,2.35),(3.57,2.32),(3.82,2.31),(2.41,2.30),
    (2.79,2.30),(3.30,2.32),(2.26,2.21),(2.55,2.25),(2.65,2.22),(3.04,2.23),(3.64,2.23),(3.23,2.22),(2.91,2.18),(3.36,2.16),
    (2.46,2.15),(3.81,2.13),(2.74,2.11),(3.48,2.15),(3.17,2.11),(3.84,2.09),(2.52,2.08),(3.00,2.06),(2.83,2.06),(3.30,2.04),
    (2.44,2.04),(3.45,2.01),(2.64,1.99),(3.11,1.99),(3.40,1.97),(2.92,1.95),(3.24,1.95),(2.56,1.90),(2.44,1.90),(2.79,1.90),
    (3.52,1.88),(3.04,1.87),(3.33,1.85),(2.71,1.83),(3.17,1.83),(3.47,1.78),(3.74,1.73),(2.87,1.76),(2.35,1.74),(3.28,1.74),
    (2.96,1.73),(3.39,1.71),(3.79,1.69),(2.63,1.67),(3.09,1.65),(2.75,1.64),(3.41,1.62),(3.96,1.60),(2.34,1.62),(2.48,1.60),
    (2.54,1.57),(2.85,1.59),(3.23,1.57),(3.00,1.53),(2.69,1.52),(3.14,1.50),(3.32,1.48),(3.62,1.47),(2.79,1.45),(2.92,1.41),
    (3.07,1.41),(3.39,1.41),(2.61,1.38),(3.17,1.38),(2.73,1.34),(3.29,1.31),(2.98,1.31),(2.83,1.30),(2.58,1.27),(3.90,1.23),
    (3.10,1.24),(3.36,1.23),(3.22,1.21),(2.57,1.19),(3.49,1.16),(2.92,1.16),(2.74,1.14),(3.05,1.10),(2.83,1.07),(3.27,1.07),
    (2.96,1.03),(3.41,1.03),(3.15,1.03),(2.67,1.00),(3.46,1.00),(3.50,0.98),(2.76,0.96),(3.23,0.95),(2.62,0.93),(2.90,0.94),
    (3.09,0.93),(3.34,0.91),(2.52,0.86),(2.96,0.86),(3.17,0.86),(2.65,0.82),(2.70,0.84),(2.74,0.81),(3.26,0.82),(2.83,0.79),
    (2.76,0.75),(3.07,0.72),(3.64,0.70),(3.01,0.65),(3.24,0.68),(3.45,0.65),(2.76,0.61),(2.95,0.63),(2.87,0.60),(3.36,0.60),
    (3.45,0.60),(2.81,0.47),(2.94,0.44),(2.99,0.42),(2.70,0.42),(2.76,0.40),(2.51,0.37),(3.16,0.37),(3.09,0.31),(2.43,0.26),
    (2.62,0.23),(3.18,0.18),(2.49,0.14),(2.96,0.04),(3.01,-0.08),(2.62,-0.19),(2.88,-0.10),(2.85,-0.22),(3.12,-0.19),(3.21,-0.24),
    (3.01,-0.38),(3.24,-0.38),(2.83,-0.45),(2.87,-0.50),(3.17,-0.42),(3.22,-0.72),(3.54,-1.03),(4.52,-1.17),(3.13,-1.25),(3.01,-1.58),
    (3.26,-1.58),(2.42,-1.62),(3.02,-2.56),
]

rapamycin = [
    (2.14,-3.07),(2.47,1.55),(2.75,1.51),(2.84,1.32),(2.71,1.24),(2.95,1.21),(2.99,1.32),(3.10,1.15),(3.14,1.03),(2.26,0.49),
    (2.51,0.77),(2.56,0.81),(2.56,0.72),(2.77,0.73),(3.00,0.57),(3.11,0.61),(2.74,0.53),(2.71,0.35),(2.75,0.40),(3.38,0.58),
    (3.53,0.51),(2.95,0.35),(3.02,0.37),(3.06,0.35),(3.47,0.29),(2.58,0.25),(3.16,0.27),(3.02,0.20),(2.92,0.18),(3.30,0.15),
    (3.08,0.12),(3.13,0.10),(2.95,0.10),(2.77,0.03),(3.48,0.03),(2.85,-0.01),(3.24,-0.01),(2.76,-0.05),(2.89,-0.03),(2.59,-0.09),
    (2.98,-0.09),(3.09,-0.12),(3.31,-0.16),(3.38,-0.11),(3.21,-0.19),(2.88,-0.19),(2.41,-0.24),(3.82,-0.27),(3.18,-0.29),(2.87,-0.35),
    (3.12,-0.36),(3.00,-0.40),(2.45,-0.44),(3.25,-0.48),(3.51,-0.52),(2.63,-0.52),(2.80,-0.55),(2.94,-0.50),(3.38,-0.53),(3.06,-0.57),
    (2.86,-0.57),(3.17,-0.58),(3.34,-0.60),(3.00,-0.62),(3.31,-0.63),(3.58,-0.69),(2.44,-0.70),(2.73,-0.72),(3.11,-0.70),(2.89,-0.69),
    (3.77,-0.75),(3.39,-0.77),(2.53,-0.76),(2.81,-0.80),(3.02,-0.80),(3.21,-0.80),(3.28,-0.80),(2.63,-0.83),(2.93,-0.84),(3.49,-0.74),
    (2.74,-0.87),(2.87,-0.89),(3.07,-0.87),(3.46,-0.89),(2.46,-0.92),(3.15,-0.94),(3.23,-0.92),(3.34,-0.96),(2.52,-0.94),(3.40,-0.98),
    (2.98,-0.99),(2.71,-1.02),(2.89,-1.03),(3.04,-1.04),(2.81,-1.08),(3.30,-1.08),(3.38,-1.10),(3.45,-1.10),(3.14,-1.11),(3.00,-1.13),
    (3.23,-1.13),(2.51,-1.15),(2.73,-1.10),(2.86,-1.18),(3.08,-1.18),(3.29,-1.21),(3.40,-1.20),(3.83,-1.23),(4.70,-1.23),(3.47,-1.28),
    (3.53,-1.25),(2.79,-1.26),(2.90,-1.28),(3.16,-1.28),(2.61,-1.32),(2.44,-1.32),(3.36,-1.32),(3.02,-1.33),(2.83,-1.35),(3.22,-1.35),
    (2.73,-1.38),(2.95,-1.38),(3.11,-1.42),(3.30,-1.42),(2.68,-1.45),(2.87,-1.45),(3.02,-1.49),(3.97,-1.45),(2.45,-1.49),(3.45,-1.49),
    (3.60,-1.49),(2.79,-1.52),(3.17,-1.52),(3.35,-1.53),(2.53,-1.56),(2.91,-1.58),(3.28,-1.58),(3.06,-1.60),(2.77,-1.62),(2.83,-1.64),
    (3.21,-1.66),(3.42,-1.66),(3.53,-1.64),(3.66,-1.66),(3.74,-1.66),(3.81,-1.66),(2.62,-1.69),(2.97,-1.71),(3.11,-1.73),(3.35,-1.73),
    (3.91,-1.73),(2.72,-1.74),(4.52,-1.75),(2.87,-1.78),(3.04,-1.81),(3.23,-1.81),(2.51,-1.85),(2.58,-1.85),(2.79,-1.86),(2.93,-1.86),
    (3.47,-1.85),(3.64,-1.84),(2.68,-1.90),(3.16,-1.90),(3.55,-1.90),(2.45,-1.91),(3.32,-1.92),(2.88,-1.94),(3.01,-1.94),(2.81,-2.00),
    (3.11,-2.00),(3.23,-2.03),(2.93,-2.07),(3.85,-2.07),(2.77,-2.08),(3.35,-2.08),(3.65,-2.08),(3.02,-2.10),(3.74,-2.11),(3.17,-2.14),
    (2.86,-2.17),(3.46,-2.17),(2.74,-2.20),(3.11,-2.20),(3.28,-2.22),(2.99,-2.24),(3.35,-2.25),(2.51,-2.26),(2.56,-2.26),(3.83,-2.26),
    (2.80,-2.27),(2.62,-2.27),(2.91,-2.29),(2.36,-2.31),(3.46,-2.29),(3.17,-2.33),(3.06,-2.33),(2.86,-2.35),(2.74,-2.37),(2.51,-2.37),
    (3.23,-2.39),(3.32,-2.41),(2.60,-2.44),(2.34,-2.46),(3.51,-2.44),(3.27,-2.46),(3.00,-2.51),(3.15,-2.48),(2.41,-2.48),(2.86,-2.54),
    (3.38,-2.51),(2.57,-2.56),(2.73,-2.58),(3.14,-2.63),(3.33,-2.63),(3.46,-2.67),(2.63,-2.69),(2.45,-2.67),(2.78,-2.69),(2.98,-2.71),
    (3.63,-2.76),(2.60,-2.75),(3.21,-2.78),(3.36,-2.80),(2.88,-2.80),(2.93,-2.82),(2.73,-2.83),(2.81,-2.83),(2.67,-2.85),(2.51,-2.87),
    (3.21,-2.89),(3.28,-2.90),(3.35,-2.93),(2.77,-2.95),(2.44,-2.97),(3.12,-2.99),(2.52,-3.01),(3.06,-3.07),(2.62,-3.08),(2.70,-3.10),
    (2.66,-3.19),(3.03,-3.19),(2.68,-3.23),(2.26,-3.29),(2.51,-3.31),(2.57,-3.33),(2.96,-3.28),(2.99,-3.36),(3.02,-3.38),(3.08,-3.42),
    (3.39,-3.38),(2.91,-3.43),(2.63,-3.50),(2.81,-3.50),(2.41,-3.53),(2.47,-3.58),(3.42,-3.53),(2.72,-3.58),(2.83,-3.58),(3.09,-3.57),
    (2.98,-3.62),(3.25,-3.64),(2.58,-3.74),(3.14,-3.85),(2.44,-3.83),(2.42,-3.89),(2.64,-3.90),(2.80,-3.96),(2.36,-4.09),(2.47,-4.06),
    (2.56,-4.18),(2.85,-4.17),(2.73,-4.23),(3.02,-4.23),(2.74,-4.32),(2.75,-4.40),(2.51,-4.39),(2.99,-4.39),(2.35,-4.77),(2.62,-5.00),
    (3.00,-5.19),(2.32,-5.90),(2.49,-6.21),(2.81,-7.08),(4.21,-0.63),
]

gefitinib = [
    (2.14,1.22),(2.85,3.33),(2.88,3.28),(3.14,3.13),(2.44,2.96),(2.51,2.91),(2.58,2.98),(2.65,2.80),(2.78,2.82),(2.96,2.77),
    (3.05,2.75),(3.07,2.61),(2.78,2.70),(2.76,2.59),(3.26,2.64),(3.38,2.61),(2.54,2.53),(2.87,2.51),(2.90,2.53),(2.71,2.44),
    (2.77,2.46),(2.79,2.38),(2.82,2.35),(2.90,2.42),(3.33,2.48),(3.29,2.43),(3.54,2.49),(3.43,2.38),(3.49,2.38),(3.22,2.40),
    (3.74,2.32),(2.63,2.32),(3.03,2.29),(3.07,2.28),(3.18,2.27),(2.59,2.21),(3.63,2.23),(3.24,2.21),(2.74,2.16),(3.66,2.14),
    (3.39,2.08),(2.65,2.10),(2.75,2.08),(3.13,2.08),(3.17,2.05),(3.21,2.08),(2.32,2.00),(3.65,2.05),(3.92,1.95),(2.55,1.98),
    (2.79,1.99),(2.84,2.01),(3.09,1.95),(3.14,1.97),(3.33,1.97),(3.46,1.93),(2.36,1.93),(3.64,1.93),(2.59,1.88),(2.97,1.88),
    (3.05,1.88),(2.72,1.90),(2.85,1.82),(3.19,1.85),(3.28,1.82),(3.41,1.86),(3.51,1.82),(2.44,1.82),(2.50,1.82),(2.35,1.79),
    (2.45,1.76),(2.98,1.76),(3.12,1.76),(3.83,1.76),(3.60,1.75),(3.35,1.76),(2.67,1.71),(2.58,1.69),(3.24,1.69),(2.75,1.69),
    (2.81,1.68),(3.04,1.69),(2.26,1.53),(2.36,1.54),(2.53,1.61),(2.63,1.54),(2.71,1.58),(2.91,1.58),(3.00,1.61),(3.17,1.61),
    (3.41,1.58),(3.52,1.63),(3.08,1.53),(3.29,1.53),(2.84,1.50),(3.36,1.50),(2.77,1.47),(2.96,1.45),(3.13,1.45),(3.82,1.43),
    (3.77,1.39),(2.66,1.40),(3.24,1.40),(2.58,1.39),(2.87,1.37),(3.04,1.35),(2.74,1.34),(3.20,1.34),(3.48,1.31),(3.52,1.29),
    (4.52,1.29),(2.44,1.27),(2.46,1.29),(2.92,1.27),(3.39,1.27),(2.42,1.21),(2.50,1.21),(2.69,1.21),(2.81,1.21),(3.08,1.20),
    (3.16,1.22),(3.32,1.22),(2.99,1.14),(4.21,1.14),(3.41,1.18),(2.64,1.09),(2.75,1.09),(2.88,1.09),(3.21,1.11),(2.50,1.05),
    (2.58,1.03),(2.34,1.00),(2.41,1.02),(2.44,0.98),(3.04,1.00),(3.13,1.00),(3.25,1.02),(3.85,1.04),(2.68,0.96),(2.85,0.96),
    (2.95,0.95),(3.34,0.96),(3.81,0.95),(2.61,0.89),(2.80,0.89),(3.16,0.89),(3.81,0.92),(3.52,0.90),(3.55,0.89),(3.28,0.86),
    (3.08,0.86),(2.71,0.84),(2.92,0.82),(3.00,0.79),(2.59,0.81),(3.39,0.77),(3.45,0.77),(2.88,0.73),(3.20,0.73),(3.05,0.69),
    (3.12,0.69),(2.81,0.66),(2.73,0.66),(3.35,0.66),(3.58,0.60),(3.25,0.62),(2.64,0.62),(2.26,0.51),(2.55,0.55),(2.95,0.55),
    (3.13,0.55),(4.70,0.58),(2.86,0.50),(3.01,0.50),(2.45,0.47),(2.66,0.47),(2.79,0.45),(3.31,0.43),(3.37,0.45),(2.64,0.41),
    (3.07,0.41),(2.92,0.37),(2.84,0.34),(2.72,0.32),(3.23,0.31),(3.12,0.28),(3.47,0.30),(3.97,0.28),(2.88,0.26),(3.00,0.26),
    (3.31,0.24),(2.47,0.24),(2.58,0.23),(3.19,0.18),(3.13,0.17),(2.52,0.14),(2.75,0.12),(2.93,0.13),(2.45,0.08),(3.36,0.10),
    (3.41,0.08),(2.63,0.04),(3.05,0.04),(2.79,0.00),(3.74,0.04),(2.86,-0.01),(2.99,-0.05),(3.40,-0.05),(3.16,-0.06),(2.90,-0.08),
    (3.32,-0.08),(2.57,-0.11),(2.51,-0.14),(2.48,-0.17),(2.69,-0.17),(2.95,-0.24),(3.28,-0.21),(2.71,-0.28),(2.84,-0.28),(3.19,-0.30),
    (3.35,-0.30),(2.88,-0.37),(2.75,-0.40),(2.62,-0.41),(2.83,-0.46),(3.10,-0.46),(3.16,-0.46),(3.23,-0.46),(2.56,-0.52),(3.30,-0.56),
    (2.86,-0.62),(2.51,-0.66),(2.99,-0.67),(2.91,-0.73),(2.41,-0.84),(2.71,-0.84),(3.13,-0.85),(2.96,-0.91),(3.02,-0.95),(2.76,-1.01),
    (3.53,-1.13),(2.52,-1.14),(2.48,-1.17),(3.41,-1.30),(3.11,-1.38),(2.67,-2.07),(2.59,-2.25),(3.13,-2.65),(2.75,-3.00),(2.42,-3.26),
    (2.72,-3.28),(3.47,-3.59),(2.72,-4.80),
]

panel_points = [cisplatin, fluorouracil, doxorubicin, paclitaxel,
                gemcitabine, lapatinib, rapamycin, gefitinib]

# ---- layout (pixel boxes of each plotting area: left, right, top, bottom) ----
boxes = [(86, 681, 0, 614), (803, 1393, 0, 614), (1489, 2104, 0, 614), (2204, 2814, 0, 614),
         (81, 681, 693, 1291), (798, 1392, 693, 1291), (1509, 2100, 693, 1291), (2200, 2814, 693, 1291)]
ytitle_px = [18, 727, 1436, 2146, 18, 726, 1436, 2146]
stat_px_y = [53, 53, 53, 53, 730, 730, 730, 730]
xtitle_px_y = [665, 665, 665, 665, 1333, 1333, 1333, 1333]

axis_style = dict(
    showline=True, linecolor="black", linewidth=2,
    ticks="outside", ticklen=5, tickwidth=2, tickcolor="black",
    tickfont=dict(family=FONT, size=24, color="#222222"),
    showgrid=False, zeroline=False, fixedrange=True,
)

fig = go.Figure()
annotations = []
axes = {}

for i, pts in enumerate(panel_points):
    n = "" if i == 0 else str(i + 1)
    xa, ya = "x" + n, "y" + n
    l, r, t, b = boxes[i]

    xs = [p[0] for p in pts]
    ys = [p[1] for p in pts]
    fig.add_trace(go.Scatter(
        x=xs, y=ys, mode="markers", xaxis=xa, yaxis=ya,
        marker=dict(size=12.5, color="black", line=dict(width=0)),
        hoverinfo="skip", showlegend=False,
    ))
    # confidence ribbon drawn over the points, like geom_smooth
    fig.add_trace(go.Scatter(
        x=band_x + band_x[::-1], y=band_upper[i] + band_lower[i][::-1],
        mode="lines", fill="toself", fillcolor="rgba(211,211,211,0.42)",
        line=dict(width=0), xaxis=xa, yaxis=ya, hoverinfo="skip", showlegend=False,
    ))
    fig.add_trace(go.Scatter(
        x=fit_x, y=fit_y[i], mode="lines", xaxis=xa, yaxis=ya,
        line=dict(color="black", width=3), hoverinfo="skip", showlegend=False,
    ))

    axes["xaxis" + n] = dict(domain=[l / W, r / W], range=x_range, anchor=ya,
                             tickvals=x_ticks, ticktext=x_ticktext, **axis_style)
    axes["yaxis" + n] = dict(domain=[1 - b / H, 1 - t / H], range=y_ranges[i], anchor=xa,
                             tickvals=y_ticks[i], ticktext=y_ticktext[i], **axis_style)

    annotations.append(dict(
        x=3.165, y=1 - stat_px_y[i] / H, xref=xa, yref="paper",
        xanchor="left", yanchor="middle", showarrow=False, text=stat_labels[i],
        font=dict(family=FONT, size=33, color="black"),
    ))
    annotations.append(dict(
        x=ytitle_px[i] / W, y=1 - (t + b) / 2 / H, xref="paper", yref="paper",
        xanchor="center", yanchor="middle", textangle=-90, showarrow=False,
        borderpad=0, text="<b>%s</b>" % drugs[i],
        font=dict(family=FONT, size=31, color="black"),
    ))
    annotations.append(dict(
        x=(l + r) / 2 / W, y=1 - xtitle_px_y[i] / H, xref="paper", yref="paper",
        xanchor="center", yanchor="middle", showarrow=False, borderpad=0,
        text="<b>riskScore</b>", font=dict(family=FONT, size=31, color="black"),
    ))

fig.update_layout(
    width=W, height=H,
    margin=dict(l=0, r=0, t=0, b=0),
    paper_bgcolor="white", plot_bgcolor="white",
    showlegend=False, annotations=annotations,
    **axes,
)

fig.write_html("out.html", config={"displayModeBar": False},
               post_script="document.body.style.margin='0';document.body.style.overflow='hidden';")
